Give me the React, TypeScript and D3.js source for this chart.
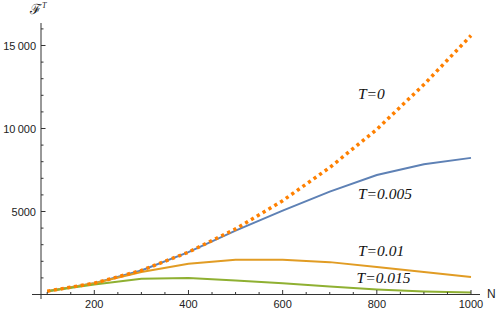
import React from "react";
import * as d3 from "d3";

const Ns = [100, 200, 300, 400, 500, 600, 700, 800, 900, 1000];
const T0 = [200, 680, 1450, 2550, 3950, 5650, 7650, 9950, 12650, 15600];
const T005 = [200, 680, 1450, 2550, 3850, 5050, 6200, 7200, 7850, 8230];
const T01 = [200, 680, 1350, 1850, 2100, 2100, 1950, 1650, 1350, 1050];
const T015 = [200, 600, 950, 1000, 850, 680, 480, 300, 180, 120];
const xTicks = [200, 400, 600, 800, 1000];
const yTicks = [5000, 10000, 15000];
const labels = [
  { text: "T=0", n: 760, v: 11800 },
  { text: "T=0.005", n: 760, v: 5750 },
  { text: "T=0.01", n: 760, v: 2320 },
  { text: "T=0.015", n: 757, v: 690 },
];

export default function App() {
  const W = 500, H = 313;
  const x = d3.scaleLinear().domain([200, 1000]).range([94.3, 471]);
  const y = d3.scaleLinear().domain([0, 15000]).range([294.5, 45.5]);
  const x0 = 41;
  const y0 = y(0);
  const line = (vals: number[]) =>
    d3.line<number>().x((_, i) => x(Ns[i])).y((d) => y(d))(vals) || "";
  const xMinor = d3.range(100, 1001, 50).filter((v) => !xTicks.includes(v));
  const yMinor = d3.range(1000, 16001, 1000).filter((v) => !yTicks.includes(v));
  const fmt = (v: number) => (v >= 10000 ? String(v).slice(0, 2) + "\u2009" + String(v).slice(2) : String(v));
  const sans = "'Liberation Sans', Arial, sans-serif";
  return (
    <svg width={W} height={H} style={{ position: "absolute", left: 0, top: 0 }}>
      <rect width={W} height={H} fill="white" />
      {/* series */}
      <path d={line(T005)} fill="none" stroke="#5E81B5" strokeWidth={2} />
      <path d={line(T01)} fill="none" stroke="#E19C24" strokeWidth={2} />
      <path d={line(T015)} fill="none" stroke="#8FB032" strokeWidth={2} />
      <path d={line(T0)} fill="none" stroke="#FF8000" strokeWidth={3.5} strokeDasharray="3.2,3.6" />
      {/* axes */}
      <line x1={32} x2={480} y1={y0} y2={y0} stroke="#333" strokeWidth={1} />
      <line x1={x0} x2={x0} y1={23} y2={299} stroke="#333" strokeWidth={1} />
      {xTicks.map((t) => (
        <g key={"xt" + t}>
          <line x1={x(t)} x2={x(t)} y1={y0} y2={y0 - 4.5} stroke="#333" />
          <text x={x(t)} y={308} textAnchor="middle" fontFamily={sans} fontSize={11} fill="#222">{t}</text>
        </g>
      ))}
      {xMinor.map((t) => (
        <line key={"xm" + t} x1={x(t)} x2={x(t)} y1={y0} y2={y0 - 2.5} stroke="#333" />
      ))}
      {yTicks.map((t) => (
        <g key={"yt" + t}>
          <line x1={x0} x2={x0 + 4.5} y1={y(t)} y2={y(t)} stroke="#333" />
          <text x={36} y={y(t) + 4} textAnchor="end" fontFamily={sans} fontSize={11} fill="#222">{fmt(t)}</text>
        </g>
      ))}
      {yMinor.map((t) => (
        <line key={"ym" + t} x1={x0} x2={x0 + 2.5} y1={y(t)} y2={y(t)} stroke="#333" />
      ))}
      <text x={487} y={298} fontFamily={sans} fontSize={12} fill="#222">N</text>
      <text x={30} y={13.5} fontFamily="'DejaVu Serif', serif" fontSize={14} fill="#222">
        ℱ<tspan dy={-6} fontSize={8} fontFamily="'Liberation Serif', serif" fontStyle="italic">T</tspan>
      </text>
      {labels.map((l) => (
        <text key={l.text} x={x(l.n)} y={y(l.v)} fontFamily="'Liberation Serif', 'Times New Roman', serif" fontStyle="italic" fontSize={15.5} fill="#111">
          {l.text}
        </text>
      ))}
    </svg>
  );
}
